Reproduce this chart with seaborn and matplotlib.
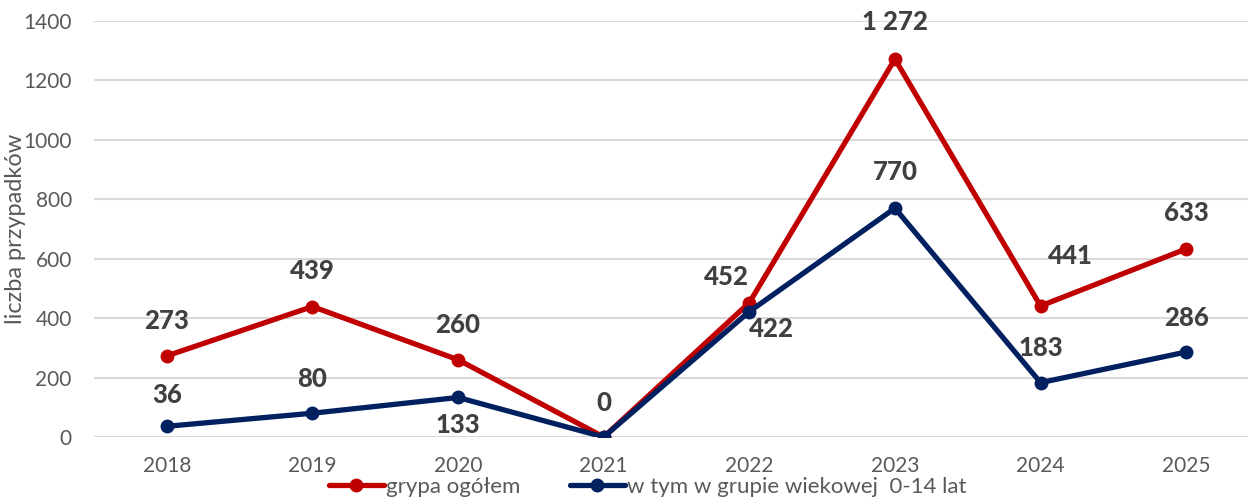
import matplotlib
matplotlib.use("Agg")
import matplotlib.pyplot as plt
import seaborn as sns
import pandas as pd
from matplotlib.lines import Line2D

years = ["2018", "2019", "2020", "2021", "2022", "2023", "2024", "2025"]
total = [273, 439, 260, 0, 452, 1272, 441, 633]
kids = [36, 80, 133, 0, 422, 770, 183, 286]
total_labels = ["273", "439", "260", "0", "452", "1 272", "441", "633"]
kids_labels = ["36", "80", "133", "", "422", "770", "183", "286"]
series_names = ["grypa ogółem", "w tym w grupie wiekowej  0-14 lat"]
yticks = [0, 200, 400, 600, 800, 1000, 1200, 1400]

RED = "#C00000"
NAVY = "#002060"
GRAY = "#595959"

sns.set_style("white")
plt.rcParams["font.family"] = ["Lato", "DejaVu Sans"]

idx = list(range(len(years)))
df = pd.DataFrame({
    "x": idx * 2,
    "value": total + kids,
    "series": [series_names[0]] * len(years) + [series_names[1]] * len(years),
})

fig = plt.figure(figsize=(12.48, 5.0), dpi=100)
ax = fig.add_axes([94 / 1248, 63 / 500, (1248 - 94) / 1248, (437 - 21) / 500])

sns.lineplot(data=df, x="x", y="value", hue="series",
             palette={series_names[0]: RED, series_names[1]: NAVY},
             hue_order=series_names, linewidth=3.8, marker="o",
             markersize=10, markeredgewidth=0, ax=ax, legend=False,
             zorder=3)

ax.set_xlim(-0.5, 7.5 - 11 / 145.7)
ax.set_ylim(0, 1400)
ax.set_yticks(yticks)
ax.set_xticks(idx)
ax.set_xticklabels(years)
ax.yaxis.grid(True, color="#D9D9D9", linewidth=1.5, zorder=0)
ax.xaxis.grid(False)
for s in ax.spines.values():
    s.set_visible(False)
ax.tick_params(axis="both", length=0, labelsize=15, colors=GRAY)
ax.tick_params(axis="x", pad=14)
ax.tick_params(axis="y", pad=16)
ax.set_xlabel("")
ax.set_ylabel("liczba przypadków", fontsize=17, color=GRAY)
ax.yaxis.set_label_coords(-0.059, 0.50)

px = 0.72
# offsets in pixels (dx, dy up)
total_off = [(0, 35), (0, 36), (0, 35), (0, 34), (-23, 26), (0, 37), (30, 50), (0, 36)]
kids_off = [(0, 31), (0, 34), (0, -28), (0, 0), (22, -17), (0, 36), (0, 35), (0, 34)]

lab_kw = dict(textcoords="offset points", ha="center", va="center",
              fontsize=18.5, fontweight="black", color="#404040", zorder=5)
for i in idx:
    dx, dy = total_off[i]
    ax.annotate(total_labels[i], (i, total[i]), xytext=(dx * px, dy * px), **lab_kw)
    if kids_labels[i]:
        dx, dy = kids_off[i]
        ax.annotate(kids_labels[i], (i, kids[i]), xytext=(dx * px, dy * px), **lab_kw)

handles = [Line2D([], [], color=RED, lw=3.8, marker="o", markersize=10, markeredgewidth=0),
           Line2D([], [], color=NAVY, lw=3.8, marker="o", markersize=10, markeredgewidth=0)]
leg = fig.legend(handles, series_names, loc="center", bbox_to_anchor=(0.519, 0.026),
                 ncol=2, frameon=False, fontsize=16, handlelength=2.5,
                 handletextpad=0.1, columnspacing=2.2, borderaxespad=0)
for t in leg.get_texts():
    t.set_color(GRAY)

fig.savefig("out.png", dpi=100)
